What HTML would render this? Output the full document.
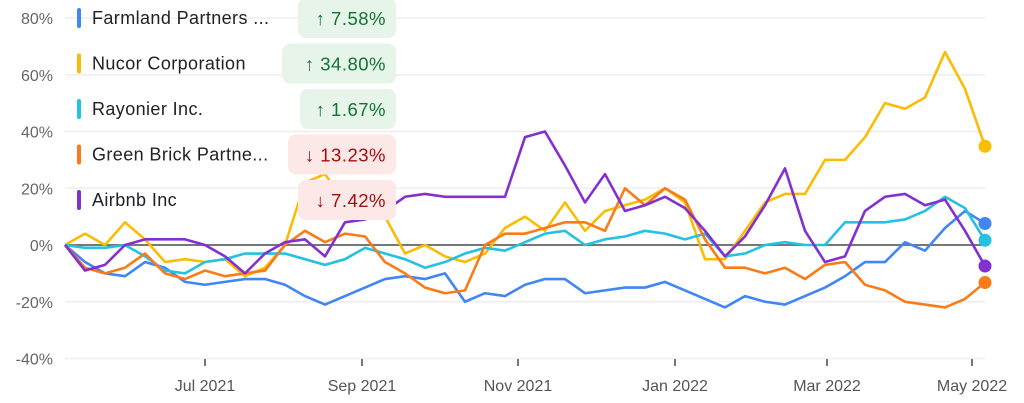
<!DOCTYPE html>
<html><head><meta charset="utf-8"><style>
body{margin:0;background:#fff;width:1024px;height:403px;overflow:hidden;font-family:"Liberation Sans",sans-serif}
svg{display:block}
</style></head><body>
<svg id="chart" width="1024" height="403" xmlns="http://www.w3.org/2000/svg"></svg>
<script>
const yTicks=[80,60,40,20,0,-20,-40];
const xTickLabels=["Jul 2021","Sep 2021","Nov 2021","Jan 2022","Mar 2022","May 2022"];
const xTickIdx=[7,14.85,22.65,30.5,38.1,45.35];
const names=["Farmland Partners ...","Nucor Corporation","Rayonier Inc.","Green Brick Partne...","Airbnb Inc"];
const changes=["7.58%","34.80%","1.67%","13.23%","7.42%"];
const up=[true,true,true,false,false];
const colors=["#4285f4","#fbbc04","#24c1e0","#fa7b17","#8430ce"];
const farmland=[0,-6,-10,-11,-6,-8,-13,-14,-13,-12,-12,-14,-18,-21,-18,-15,-12,-11,-12,-10,-20,-17,-18,-14,-12,-12,-17,-16,-15,-15,-13,-16,-19,-22,-18,-20,-21,-18,-15,-11,-6,-6,1,-2,6,12,7.58];
const nucor=[0,4,0,8,2,-6,-5,-6,-5,-11,-8,0,22,25,15,12,10,-3,0,-4,-6,-3,6,10,5,15,5,12,14,16,20,15,-5,-5,5,15,18,18,30,30,38,50,48,52,68,55,34.8];
const rayonier=[0,-1,-1,0,-4,-9,-10,-6,-5,-3,-3,-3,-5,-7,-5,-1,-3,-5,-8,-6,-3,-1,-2,1,4,5,0,2,3,5,4,2,4,-4,-3,0,1,0,0,8,8,8,9,12,17,13,1.67];
const greenBrick=[0,-8,-10,-8,-3,-10,-12,-9,-11,-10,-9,0,5,1,4,3,-6,-10,-15,-17,-16,0,4,4,6,8,8,5,20,14,20,16,2,-8,-8,-10,-8,-12,-7,-6,-14,-16,-20,-21,-22,-19,-13.23];
const airbnb=[0,-9,-7,0,2,2,2,0,-4,-10,-3,1,2,-4,8,9,12,17,18,17,17,17,17,38,40,28,15,25,12,14,17,13,5,-4,3,14,27,5,-6,-4,12,17,18,14,16,5,-7.42];
const series=[farmland,nucor,rayonier,greenBrick,airbnb];

const NS="http://www.w3.org/2000/svg";
const svg=document.getElementById('chart');
const X0=65,X1=985,N=farmland.length;
const xs=i=>X0+(X1-X0)*i/(N-1);
const ys=v=>245-v*2.8375;
function mk(tag,at,parent){const e=document.createElementNS(NS,tag);for(const k in at)e.setAttribute(k,at[k]);(parent||svg).appendChild(e);return e;}

yTicks.forEach(t=>{
  const g=mk('line',{x1:X0,x2:X1,y1:ys(t),y2:ys(t),stroke:t===0?'#777':'#eee','stroke-width':t===0?2:1.5});
  
  
  const tx=mk('text',{x:53,y:ys(t)+6,'text-anchor':'end','font-size':16,fill:'#666'});
  tx.textContent=t+'%';
  
  
});
xTickLabels.forEach((l,k)=>{
  const x=xs(xTickIdx[k]);
  const tk=mk('line',{x1:x,x2:x,y1:359,y2:366,stroke:'#777','stroke-width':2});
  
  
  const tx=mk('text',{x:x,y:391,'text-anchor':'middle','font-size':16,fill:'#555'});
  tx.textContent=l;
  
  
});
series.forEach((s,j)=>{
  const p=mk('polyline',{points:s.map((v,i)=>xs(i)+','+ys(v)).join(' '),fill:'none',stroke:colors[j],'stroke-width':2.6,'stroke-linejoin':'round'});
  
  
});
series.forEach((s,j)=>{
  const c=mk('circle',{cx:xs(N-1),cy:ys(s[N-1]),r:6.5,fill:colors[j]});
  
  
});
const boxL=[298,282,300,288,298];
names.forEach((n,j)=>{
  const cy=18+j*45.5;
  const b=mk('rect',{x:77,y:cy-10,width:4,height:20,rx:2,fill:colors[j]});
  
  
  const t=mk('text',{x:92,y:cy+6,'font-size':18,'letter-spacing':0.4,fill:'#202124'});
  t.textContent=n;
  
  
  const r=mk('rect',{x:boxL[j],y:cy-20,width:396-boxL[j],height:40,rx:8,fill:up[j]?'#e6f4ea':'#fce8e6'});
  
  
  const ct=mk('text',{x:386,y:cy+7,'text-anchor':'end','font-size':18.5,'letter-spacing':0.5,fill:up[j]?'#137333':'#a50e0e'});
  ct.textContent=(up[j]?'↑ ':'↓ ')+changes[j];
  
  
});
</script>
</body></html>
